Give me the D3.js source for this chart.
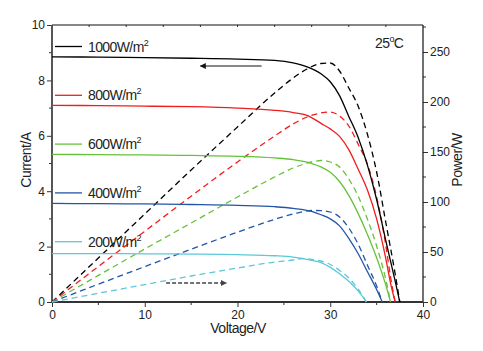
<!DOCTYPE html>
<html>
<head>
<meta charset="utf-8">
<script src="https://cdn.jsdelivr.net/npm/d3@7"></script>
<style>
body { margin: 0; background: #fff; }
text { font-family: "Liberation Sans", Arial, sans-serif; fill: #222; }
</style>
</head>
<body>
<div id="chart-area"></div>
<script>
let width = 483,
height = 351

// irradiance levels
let levels = ['1000', '800', '600', '400', '200']
let colors = ['#000000', '#f21c1c', '#66c23a', '#2255a8', '#5cc8d8']

// I-V curves, [voltage, current]
let iv1000 = [[0,8.85],[5,8.84],[10,8.82],[15,8.8],[20,8.77],[24,8.72],[26,8.63],[27.5,8.49],[29,8.24],[30,7.95],[31,7.45],[32,6.7],[33,5.95],[34,4.95],[35,3.7],[36,2.2],[37,0.75],[37.5,0]]
let iv800 = [[0,7.1],[5,7.09],[10,7.07],[15,7.05],[20,7.0],[24,6.92],[26,6.84],[27.5,6.74],[29,6.45],[30,6.25],[31,5.98],[32,5.5],[33,4.8],[34,4.05],[35,3.0],[36,1.55],[36.5,0.68],[37,0]]
let iv600 = [[0,5.33],[5,5.32],[10,5.31],[15,5.29],[20,5.26],[24,5.2],[26,5.14],[28,5.0],[29,4.88],[30,4.68],[31,4.35],[32,3.85],[33,3.2],[34,2.45],[35,1.6],[36,0.6],[36.5,0]]
let iv400 = [[0,3.56],[5,3.55],[10,3.54],[15,3.52],[20,3.49],[24,3.44],[26,3.38],[28,3.27],[29,3.15],[30,3.0],[31,2.75],[32,2.3],[33,1.75],[34,1.1],[35,0.45],[35.6,0]]
let iv200 = [[0,1.75],[5,1.75],[10,1.74],[15,1.73],[20,1.71],[24,1.67],[26,1.62],[28,1.5],[29,1.42],[30,1.25],[31,1.02],[32,0.75],[33,0.4],[33.9,0]]

// P-V curves, [voltage, power]
let pv1000 = [[0,0],[5,44],[10,88],[15,132],[20,175],[24,209],[26,224],[27.5,233],[29,238.5],[30,239],[31,231],[32,214],[33,196],[34,168],[35,130],[36,79],[37,28],[37.5,0]]
let pv800 = [[0,0],[5,35.5],[10,70.7],[15,105.8],[20,140],[24,166],[26,178],[27.5,185],[29,189],[30,190],[31,186],[32,176],[33,158],[34,138],[35,105],[36,56],[36.5,25],[37,0]]
let pv600 = [[0,0],[5,26.6],[10,53],[15,79],[20,105],[24,125],[26,134],[28,140],[29,141.5],[30,140],[31,135],[32,123],[33,106],[34,83],[35,56],[36,22],[36.5,0]]
let pv400 = [[0,0],[5,17.8],[10,35.4],[15,52.8],[20,69.8],[24,82.6],[26,88],[28,91.5],[29,91.4],[30,90],[31,85],[32,74],[33,58],[34,37],[35,16],[35.6,0]]
let pv200 = [[0,0],[5,8.75],[10,17.4],[15,26],[20,34],[24,40],[26,42],[27,43.5],[28,42.5],[29,41],[30,37.5],[31,31.6],[32,24],[33,13],[33.9,0]]

let ivData = [iv1000, iv800, iv600, iv400, iv200]
let pvData = [pv1000, pv800, pv600, pv400, pv200]

let xTicks = [0, 10, 20, 30, 40]
let yTicks = [0, 2, 4, 6, 8, 10]
let pTicks = [0, 50, 100, 150, 200, 250]

let margin = {top: 25, right: 60, bottom: 49, left: 52}

let svg = d3.select('#chart-area').append('svg')
	.attr('width', width)
	.attr('height', height)

let x = d3.scaleLinear().domain([0, 40]).range([margin.left, width - margin.right])
let y = d3.scaleLinear().domain([0, 10]).range([height - margin.bottom, margin.top])
let yP = d3.scaleLinear().domain([0, 277]).range([height - margin.bottom, margin.top])

let x0 = x(0), x1 = x(40), y0 = y(0), y1 = y(10)

// minor ticks
let g = svg.append('g')
d3.range(5, 40, 10).forEach(v => {
	g.append('line').attr('x1', x(v)).attr('x2', x(v)).attr('y1', y0).attr('y2', y0 + 3).attr('stroke', '#333')
})
d3.range(4, 40, 4).forEach(v => {
	g.append('line').attr('x1', x(v)).attr('x2', x(v)).attr('y1', y1).attr('y2', y1 + 2).attr('stroke', '#333')
})
d3.range(1, 10, 2).forEach(v => {
	g.append('line').attr('x1', x0 - 3).attr('x2', x0).attr('y1', y(v)).attr('y2', y(v)).attr('stroke', '#333')
})
d3.range(25, 277, 50).forEach(v => {
	g.append('line').attr('x1', x1).attr('x2', x1 + 3).attr('y1', yP(v)).attr('y2', yP(v)).attr('stroke', '#333')
})

// axes
let xAxis = svg.append('g')
	.attr('transform', 'translate(0,' + y0 + ')')
	.call(d3.axisBottom(x).tickValues(xTicks).tickSize(5).tickPadding(3))
let yAxis = svg.append('g')
	.attr('transform', 'translate(' + x0 + ',0)')
	.call(d3.axisLeft(y).tickValues(yTicks).tickSize(5).tickPadding(2))
let pAxis = svg.append('g')
	.attr('transform', 'translate(' + x1 + ',0)')
	.call(d3.axisRight(yP).tickValues(pTicks).tickSize(5).tickPadding(2))

;[xAxis, yAxis, pAxis].forEach(a => {
	a.selectAll('.domain').remove()
	a.selectAll('line').attr('stroke', '#333')
	a.selectAll('text').style('font-size', '12px').style('font-family', '"Liberation Sans", Arial, sans-serif').attr('fill', '#222')
})

// frame
svg.append('line').attr('x1', x0).attr('x2', x1).attr('y1', y1).attr('y2', y1).attr('stroke', '#111').attr('stroke-width', 1.2)
svg.append('line').attr('x1', x1).attr('x2', x1).attr('y1', y1).attr('y2', y0).attr('stroke', '#111').attr('stroke-width', 1.2)
svg.append('line').attr('x1', x0).attr('x2', x1).attr('y1', y0).attr('y2', y0).attr('stroke', '#333').attr('stroke-width', 1.8)
svg.append('line').attr('x1', x0).attr('x2', x0).attr('y1', y1).attr('y2', y0 + 1).attr('stroke', '#444').attr('stroke-width', 1.8)

// curves
let ivLine = d3.line().x(d => x(d[0])).y(d => y(d[1])).curve(d3.curveMonotoneX)
let pvLine = d3.line().x(d => x(d[0])).y(d => yP(d[1])).curve(d3.curveMonotoneX)

svg.selectAll('.pv')
	.data(pvData)
	.enter().append('path')
	.attr('class', 'pv')
	.attr('d', pvLine)
	.attr('fill', 'none')
	.attr('stroke', (d, i) => colors[i])
	.attr('stroke-width', 1.3)
	.attr('stroke-dasharray', '6,4')

svg.selectAll('.iv')
	.data(ivData)
	.enter().append('path')
	.attr('class', 'iv')
	.attr('d', ivLine)
	.attr('fill', 'none')
	.attr('stroke', (d, i) => colors[i])
	.attr('stroke-width', 1.3)

// legend
let legend = svg.selectAll('.legend')
	.data(levels)
	.enter().append('g')
	.attr('class', 'legend')
	.attr('transform', (d, i) => 'translate(0,' + (46.5 + i * 48.8) + ')')
legend.append('line')
	.attr('x1', x0 + 3).attr('x2', x0 + 30)
	.attr('stroke', (d, i) => colors[i])
	.attr('stroke-width', 1.3)
let lt = legend.append('text')
	.attr('x', x0 + 36).attr('y', 5)
	.style('font-size', '14px')
	.style('letter-spacing', '-0.6px')
lt.append('tspan').text(d => d + 'W/m')
lt.append('tspan').attr('dy', -6).style('font-size', '9px').text('2')

// temperature
let tt = svg.append('text').attr('x', 375).attr('y', 48).style('font-size', '14px').style('letter-spacing', '-0.6px')
tt.append('tspan').text('25')
tt.append('tspan').attr('dy', -6).style('font-size', '9px').text('o')
tt.append('tspan').attr('dy', 6).text('C')

// arrows
let defs = svg.append('defs')
defs.append('marker').attr('id', 'ah').attr('viewBox', '0 0 10 10').attr('refX', 9).attr('refY', 5)
	.attr('markerWidth', 8).attr('markerHeight', 6).attr('markerUnits', 'userSpaceOnUse').attr('orient', 'auto')
	.append('path').attr('d', 'M0,0L10,5L0,10Z').attr('fill', '#111')
defs.append('marker').attr('id', 'ah2').attr('viewBox', '0 0 10 10').attr('refX', 9).attr('refY', 5)
	.attr('markerWidth', 8).attr('markerHeight', 6).attr('markerUnits', 'userSpaceOnUse').attr('orient', 'auto')
	.append('path').attr('d', 'M0,0L10,5L0,10Z').attr('fill', '#444')

svg.append('line')
	.attr('x1', x(22.6)).attr('x2', x(16.0))
	.attr('y1', y(8.52)).attr('y2', y(8.52))
	.attr('stroke', '#111').attr('stroke-width', 1.1)
	.attr('marker-end', 'url(#ah)')
svg.append('line')
	.attr('x1', x(12.3)).attr('x2', x(18.8))
	.attr('y1', yP(19)).attr('y2', yP(19))
	.attr('stroke', '#444').attr('stroke-width', 1.3)
	.attr('stroke-dasharray', '4,2')
	.attr('marker-end', 'url(#ah2)')

// axis titles
svg.append('text').attr('transform', 'translate(31,' + 160 + ') rotate(-90)')
	.attr('text-anchor', 'middle').style('font-size', '14px').style('letter-spacing', '-0.5px').text('Current/A')
svg.append('text').attr('transform', 'translate(462,' + 160 + ') rotate(-90)')
	.attr('text-anchor', 'middle').style('font-size', '14px').style('letter-spacing', '-0.5px').text('Power/W')
svg.append('text').attr('x', 238).attr('y', 333)
	.attr('text-anchor', 'middle').style('font-size', '14px').style('letter-spacing', '-0.5px').text('Voltage/V')
</script>
</body>
</html>
